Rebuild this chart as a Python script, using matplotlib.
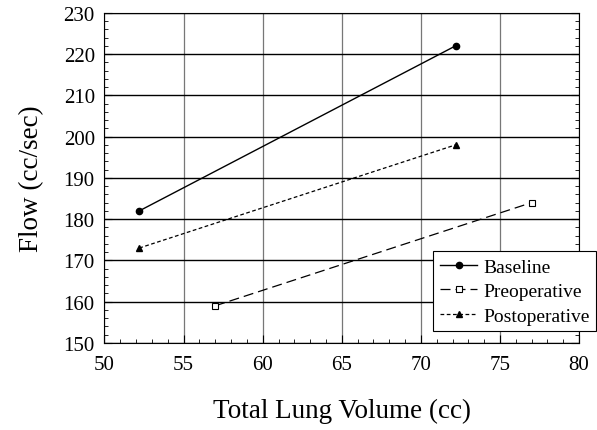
import matplotlib
matplotlib.use("Agg")
import matplotlib.pyplot as plt
from matplotlib.ticker import MultipleLocator

plt.rcParams['font.family'] = ['Liberation Serif', 'DejaVu Serif']

base_x = [52.2, 72.2]
base_y = [182, 222]
pre_x = [57, 77]
pre_y = [159, 184]
post_x = [52.2, 72.2]
post_y = [173, 198]

fig = plt.figure(figsize=(5.97, 4.31), dpi=100)
ax = fig.add_axes([0.175, 0.202, 0.795, 0.766])

ax.plot(base_x, base_y, '-', color='black', lw=1.0, marker='o', ms=4.5, label='Baseline')
ax.plot(pre_x, pre_y, '--', color='black', lw=0.9, dashes=(8, 4), marker='s', ms=5,
        mfc='white', mew=0.8, label='Preoperative')
ax.plot(post_x, post_y, '--', color='black', lw=0.9, dashes=(3, 2), marker='^', ms=5,
        label='Postoperative')

ax.set_xlim(50, 80)
ax.set_ylim(150, 230)
ax.xaxis.set_major_locator(MultipleLocator(5))
ax.xaxis.set_minor_locator(MultipleLocator(1))
ax.yaxis.set_major_locator(MultipleLocator(10))
ax.yaxis.set_minor_locator(MultipleLocator(2))
ax.tick_params(which='both', direction='in', top=False, right=True, labelsize=15, pad=7)
ax.tick_params(axis='x', pad=9)
ax.tick_params(which='major', length=6)
ax.tick_params(which='minor', length=3)
ax.grid(True, axis='y', which='major', color='black', lw=1.0)
ax.grid(True, axis='x', which='major', color='#777777', lw=0.9)
ax.set_axisbelow(True)

ax.set_xlabel('Total Lung Volume (cc)', fontsize=19.5, labelpad=17)
ax.set_ylabel('Flow (cc/sec)', fontsize=19.5, labelpad=14)

leg = ax.legend(loc='lower left', bbox_to_anchor=(0.693, 0.035), fontsize=14, frameon=True,
                fancybox=False, edgecolor='black', framealpha=1, handlelength=1.9,
                handletextpad=0.3, borderpad=0.35, labelspacing=0.35, borderaxespad=0)
leg.get_frame().set_linewidth(0.8)

fig.savefig('out.png', dpi=100)
